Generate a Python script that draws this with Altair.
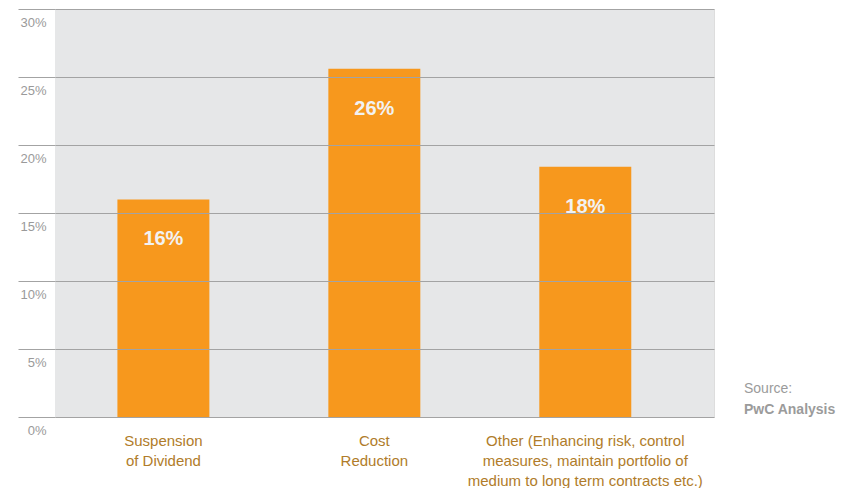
import altair as alt
import pandas as pd

categories = [
    "Suspension|of Dividend",
    "Cost|Reduction",
    "Other (Enhancing risk, control|measures, maintain portfolio of|medium to long term contracts etc.)",
]
values = [16.0, 25.6, 18.4]
labels = ["16%", "26%", "18%"]
y_ticks = [0, 5, 10, 15, 20, 25, 30]
source_lines = ["Source:", "PwC Analysis"]

df = pd.DataFrame({"cat": categories, "value": values, "label": labels})

W, H = 659, 408
FONT = "Liberation Sans"
GRID = "#a3a3a3"

x_enc = alt.X(
    "cat:N",
    sort=categories,
    title=None,
    scale=alt.Scale(paddingInner=0.564, paddingOuter=0.344, align=0.43),
    axis=alt.Axis(
        labelAngle=0,
        labelExpr="split(datum.label, '|')",
        labelColor="#b07c2a",
        labelFontSize=15,
        labelFont=FONT,
        labelLineHeight=20,
        labelBaseline="top",
        labelPadding=16,
        ticks=False,
        domain=False,
        labelLimit=400,
    ),
)

y_enc = alt.Y(
    "value:Q",
    title=None,
    scale=alt.Scale(domain=[0, 30], nice=False),
    axis=alt.Axis(
        values=y_ticks,
        labelExpr="datum.value + '%'",
        grid=True,
        gridColor=GRID,
        gridWidth=1.2,
        ticks=True,
        tickSize=37,
        tickColor=GRID,
        tickWidth=1.2,
        domain=False,
        labelAlign="right",
        labelPadding=-28,
        labelBaseline="top",
        labelOffset=7,
        labelColor="#9a9a9a",
        labelFontSize=13,
        labelFont=FONT,
        labelOverlap=False,
        zindex=1,
    ),
)

base = alt.Chart(df)

background = alt.Chart(pd.DataFrame({"k": [0]})).mark_rect(color="#e6e7e8").encode(
    x=alt.value(0), x2=alt.value(W), y=alt.value(0), y2=alt.value(H)
)

bars = base.mark_bar(color="#f7981d").encode(x=x_enc, y=y_enc)

bar_text = base.mark_text(
    dy=40, color="#f2f2f2", fontSize=20, fontWeight="bold", font=FONT
).encode(x=alt.X("cat:N", sort=categories), y="value:Q", text="label:N")

src1 = alt.Chart(pd.DataFrame({"t": [source_lines[0]]})).mark_text(
    align="left", baseline="middle", color="#9b9b9b", fontSize=14, font=FONT
).encode(text="t:N", x=alt.value(W + 30), y=alt.value(H - 28))

src2 = alt.Chart(pd.DataFrame({"t": [source_lines[1]]})).mark_text(
    align="left", baseline="middle", color="#9b9b9b", fontSize=14, fontWeight="bold", font=FONT
).encode(text="t:N", x=alt.value(W + 30), y=alt.value(H - 7))

chart = (
    alt.layer(background, bars, bar_text, src1, src2)
    .properties(width=W, height=H, padding={"left": 9, "top": 0, "right": 0, "bottom": 0})
    .configure_view(strokeWidth=0)
    .configure(font=FONT)
)

chart.save("out.html", embed_options={"renderer": "svg", "actions": False})
